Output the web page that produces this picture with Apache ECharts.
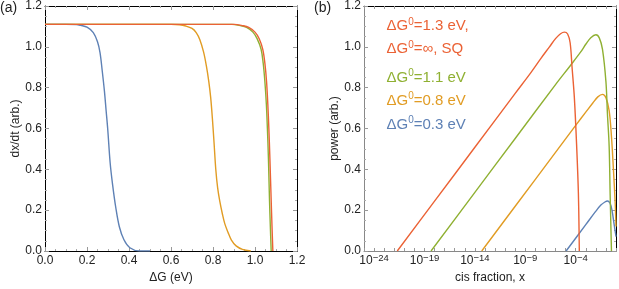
<!DOCTYPE html>
<html><head><meta charset="utf-8">
<script src="https://cdn.jsdelivr.net/npm/echarts@6/dist/echarts.min.js"></script>
<style>html,body{margin:0;padding:0;background:#fff}#c{width:619px;height:289px}</style>
</head><body><div id="c"></div>
<script>
// ---- Panel (a): dx/dt vs ΔG ----
const blueDG   = [0.00, 0.10, 0.15, 0.17, 0.20, 0.23, 0.25, 0.262, 0.273, 0.283, 0.291, 0.299, 0.31, 0.322, 0.337, 0.354, 0.376, 0.404, 0.45, 0.50];
const blueRate = [1.11, 1.11, 1.109, 1.105, 1.096, 1.07, 1.025, 0.972, 0.878, 0.783, 0.688, 0.593, 0.435, 0.324, 0.213, 0.119, 0.055, 0.016, 0.0, 0.0];
const orangeDG   = [0.00, 0.60, 0.64, 0.67, 0.70, 0.72, 0.737, 0.755, 0.768, 0.78, 0.789, 0.797, 0.805, 0.813, 0.822, 0.832, 0.845, 0.856, 0.872, 0.887, 0.91, 0.94, 0.98];
const orangeRate = [1.11, 1.11, 1.108, 1.102, 1.09, 1.07, 1.036, 0.975, 0.909, 0.83, 0.751, 0.65, 0.53, 0.403, 0.31, 0.245, 0.18, 0.134, 0.09, 0.055, 0.025, 0.008, 0.0];
const greenDG   = [0.00, 0.89, 0.93, 0.96, 0.99, 1.01, 1.029, 1.039, 1.047, 1.054, 1.059, 1.064, 1.069, 1.073, 1.077];
const greenRate = [1.11, 1.11, 1.104, 1.095, 1.072, 1.04, 0.988, 0.92, 0.83, 0.72, 0.60, 0.45, 0.25, 0.12, 0.0];
const redDG   = [0.00, 0.90, 0.94, 0.97, 1.00, 1.02, 1.037, 1.047, 1.055, 1.061, 1.066, 1.071, 1.077, 1.081, 1.085];
const redRate = [1.11, 1.11, 1.104, 1.095, 1.072, 1.04, 0.988, 0.92, 0.83, 0.72, 0.60, 0.45, 0.25, 0.12, 0.0];

// ---- Panel (b): power vs cis fraction (log10 x) ----
const redLogX   = [-21.7, -18, -14, -10, -8.5, -7.5, -6.6, -6.0, -5.5, -5.12, -4.8, -4.55, -4.36, -4.13, -3.9, -3.73, -3.64];
const redPower  = [0, 0.244, 0.508, 0.772, 0.87, 0.94, 1.0, 1.04, 1.064, 1.072, 1.063, 1.02, 0.9, 0.75, 0.51, 0.28, 0.0];
const greenLogX  = [-18.35, -14, -10, -6, -4.5, -3.5, -2.98, -2.5, -1.99, -1.66, -1.34, -1.0, -0.85, -0.68, -0.58, -0.45];
const greenPower = [0, 0.287, 0.551, 0.815, 0.91, 0.975, 1.014, 1.045, 1.059, 1.044, 0.988, 0.83, 0.672, 0.513, 0.276, 0.0];
const orangeLogX  = [-13.32, -10, -6, -4, -3, -2.3, -1.8, -1.34, -1.0, -0.68, -0.45, -0.26, -0.09, 0.0];
const orangePower = [0, 0.219, 0.483, 0.615, 0.68, 0.725, 0.755, 0.767, 0.751, 0.688, 0.561, 0.403, 0.245, 0.12];
const blueLogX  = [-4.95, -3, -2, -1.5, -1.1, -0.85, -0.6, -0.4, -0.2, 0.0];
const bluePower = [0, 0.129, 0.195, 0.225, 0.24, 0.245, 0.235, 0.2, 0.135, 0.07];

const yTicks = [0, 0.2, 0.4, 0.6, 0.8, 1.0, 1.2];
const logLabelExps = [-24, -19, -14, -9, -4];

const legendLines = [
  {pre: 'ΔG', sup: '0', post: '=1.3 eV,', color: '#EB6235', y: 26},
  {pre: 'ΔG', sup: '0', post: '=∞, SQ', color: '#EB6235', y: 49},
  {pre: 'ΔG', sup: '0', post: '=1.1 eV', color: '#8FB032', y: 77.5},
  {pre: 'ΔG', sup: '0', post: '=0.8 eV', color: '#E19C24', y: 100.5},
  {pre: 'ΔG', sup: '0', post: '=0.3 eV', color: '#5E81B5', y: 124.5}
];

const C = {blue: '#5E81B5', orange: '#E19C24', green: '#8FB032', red: '#EB6235'};
const zip = (a, b) => a.map((v, i) => [v, b[i]]);
const FONT = 'Liberation Sans, Arial, sans-serif';
const TXT = '#222';

function frameAxis(extra) {
  return Object.assign({
    axisLabel: {show: false},
    axisTick: {show: true, inside: true, length: 4, lineStyle: {color: '#999'}},
    minorTick: {show: true, splitNumber: 4, length: 2, lineStyle: {color: '#aaa'}},
    splitLine: {show: false},
    axisLine: {show: true, onZero: false, lineStyle: {color: '#000', width: 1}}
  }, extra);
}

const chart = echarts.init(document.getElementById('c'), null, {renderer: 'canvas'});
const option = {
  animation: false,
  backgroundColor: '#fff',
  grid: [
    {left: 45, top: 5, right: 322, bottom: 31},
    {left: 364, top: 5, right: 1, bottom: 31}
  ],
  xAxis: [
    frameAxis({gridIndex: 0, type: 'value', min: 0, max: 1.2, interval: 0.2, position: 'bottom',
      name: 'ΔG (eV)', nameLocation: 'middle', nameGap: 21,
      nameTextStyle: {fontFamily: FONT, fontSize: 12, color: TXT},
      axisLabel: {show: true, fontFamily: FONT, fontSize: 12, color: TXT, margin: 4, formatter: v => v.toFixed(1)}}),
    frameAxis({gridIndex: 0, type: 'value', min: 0, max: 1.2, interval: 0.2, position: 'top'}),
    frameAxis({gridIndex: 1, type: 'value', min: -25, max: 0, interval: 1, position: 'bottom',
      minorTick: {show: false},
      axisTick: {show: true, inside: true, length: 3, lineStyle: {color: '#999'}},
      axisLine: {show: true, onZero: false, lineStyle: {color: '#888', width: 1}},
      name: 'cis fraction, x', nameLocation: 'middle', nameGap: 21,
      nameTextStyle: {fontFamily: FONT, fontSize: 12, color: TXT},
      axisLabel: {show: true, interval: 0, margin: 2, fontFamily: FONT, fontSize: 12, color: TXT,
        formatter: v => logLabelExps.includes(v) ? '{b|10}{s|−' + (-v) + '}' : '',
        rich: {b: {fontFamily: FONT, fontSize: 12, color: TXT, lineHeight: 14, verticalAlign: 'bottom'},
               s: {fontFamily: FONT, fontSize: 9.5, color: TXT, lineHeight: 14, verticalAlign: 'top'}}}}),
    frameAxis({gridIndex: 1, type: 'value', min: -25, max: 0, interval: 1, position: 'top',
      minorTick: {show: false},
      axisTick: {show: true, inside: true, length: 3, lineStyle: {color: '#999'}}})
  ],
  yAxis: [
    frameAxis({gridIndex: 0, type: 'value', min: 0, max: 1.2, interval: 0.2, position: 'left',
      name: 'dx/dt (arb.)', nameLocation: 'middle', nameGap: 23,
      nameTextStyle: {fontFamily: FONT, fontSize: 12, color: TXT},
      axisLabel: {show: true, fontFamily: FONT, fontSize: 12, color: TXT, margin: 3, formatter: v => v.toFixed(1)}}),
    frameAxis({gridIndex: 0, type: 'value', min: 0, max: 1.2, interval: 0.2, position: 'right'}),
    frameAxis({gridIndex: 1, type: 'value', min: 0, max: 1.2, interval: 0.2, position: 'left',
      axisLine: {show: true, onZero: false, lineStyle: {color: '#888', width: 1}},
      name: 'power (arb.)', nameLocation: 'middle', nameGap: 22,
      nameTextStyle: {fontFamily: FONT, fontSize: 12, color: TXT},
      axisLabel: {show: true, fontFamily: FONT, fontSize: 12, color: TXT, margin: 3, formatter: v => v.toFixed(1)}}),
    frameAxis({gridIndex: 1, type: 'value', min: 0, max: 1.2, interval: 0.2, position: 'right'})
  ],
  series: [],
  graphic: []
};

function addLine(xi, yi, data, color) {
  option.series.push({type: 'line', xAxisIndex: xi, yAxisIndex: yi, data: data, showSymbol: false,
    smooth: 0.35, clip: true,
    lineStyle: {color: color, width: 1.4}, itemStyle: {color: color}, silent: true});
}
addLine(0, 0, zip(blueDG, blueRate), C.blue);
addLine(0, 0, zip(orangeDG, orangeRate), C.orange);
addLine(0, 0, zip(greenDG, greenRate), C.green);
addLine(0, 0, zip(redDG, redRate), C.red);
addLine(2, 2, zip(blueLogX, bluePower), C.blue);
addLine(2, 2, zip(orangeLogX, orangePower), C.orange);
addLine(2, 2, zip(greenLogX, greenPower), C.green);
addLine(2, 2, zip(redLogX, redPower), C.red);

option.graphic.push({type: 'text', left: 0, top: 1, style: {text: '(a)', font: '14px ' + FONT, fill: TXT}});
option.graphic.push({type: 'text', left: 314, top: 1, style: {text: '(b)', font: '14px ' + FONT, fill: TXT}});
legendLines.forEach(l => {
  option.graphic.push({type: 'text', x: 386.5, y: l.y - 9, z: 10, style: {
    text: '{d|' + l.pre + '}{s|' + l.sup + '}{d|' + l.post + '}',
    fill: l.color,
    rich: {d: {fontSize: 15, fontFamily: FONT, fill: l.color, lineHeight: 18},
           s: {fontSize: 10, fontFamily: FONT, fill: l.color, lineHeight: 14, verticalAlign: 'top'}}
  }});
});

chart.setOption(option);
</script></body></html>
